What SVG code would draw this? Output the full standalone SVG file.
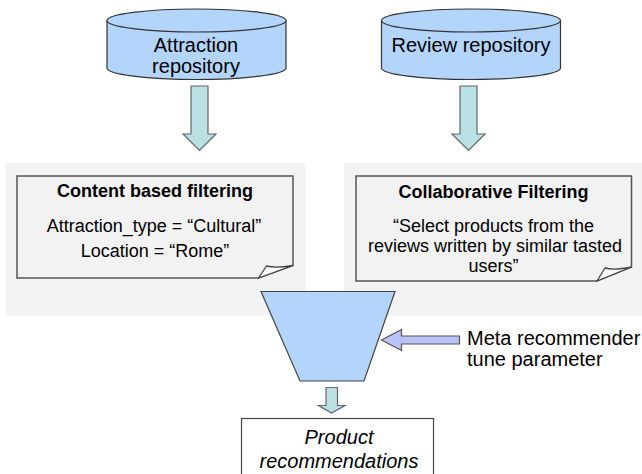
<svg xmlns="http://www.w3.org/2000/svg" width="642" height="474" viewBox="0 0 642 474">
  <style>
    text { font-family: "Liberation Sans", Arial, sans-serif; fill: #000; }
    .lbl { font-size: 20px; text-anchor: middle; }
    .note-title { font-size: 18px; font-weight: bold; text-anchor: middle; }
    .note-text { font-size: 18px; text-anchor: middle; }
    .side { font-size: 20px; }
    .out { font-size: 20px; font-style: italic; text-anchor: middle; }
    .db { fill: #b3d4fb; stroke: #333; stroke-width: 1.2; }
    .panel { fill: #f3f3f3; stroke: none; }
    .note { fill: #f2f2f2; stroke: #555; stroke-width: 1.5; }
    .flap { fill: #fafafa; stroke: #444; stroke-width: 1.3; stroke-linejoin: round; }
    .down { fill: #b9e0e3; stroke: #666; stroke-width: 1.2; }
    .funnel { fill: #b3d4fb; stroke: #444; stroke-width: 1.2; }
    .tune { fill: #b8c4f8; stroke: #555; stroke-width: 1.2; }
    .box { fill: #fff; stroke: #444; stroke-width: 1.2; }
  </style>

  <!-- grey background panels behind the two filtering notes -->
  <rect class="panel" x="5.5" y="163" width="300" height="153"/>
  <rect class="panel" x="344" y="163" width="298" height="153"/>

  <g id="attraction-repository">
    <path class="db" d="M107,20.5 V68 A89.5,11.5 0 0 0 286,68 V20.5"/>
    <ellipse class="db" cx="196.5" cy="20.5" rx="89.5" ry="11.5"/>
    <text class="lbl" x="196" y="52">Attraction</text>
    <text class="lbl" x="196" y="73">repository</text>
  </g>

  <g id="review-repository">
    <path class="db" d="M381.5,20.5 V68 A89.5,11.5 0 0 0 560.5,68 V20.5"/>
    <ellipse class="db" cx="471" cy="20.5" rx="89.5" ry="11.5"/>
    <text class="lbl" x="471" y="52">Review repository</text>
  </g>

  <g id="content-filtering">
    <path class="note" d="M17,176 H293 V265.5 L258.5,278 H17 Z"/>
    <path class="flap" d="M258.5,278 L266.5,266 Q276,268.5 293,265.5 Z"/>
    <text class="note-title" x="155" y="197">Content based filtering</text>
    <text class="note-text" x="154" y="232">Attraction_type = “Cultural”</text>
    <text class="note-text" x="155" y="257">Location = “Rome”</text>
  </g>

  <g id="collaborative-filtering">
    <path class="note" d="M356,176 H631.5 V267 L597,281 H356 Z"/>
    <path class="flap" d="M597,281 L605,268 Q614,270.5 631.5,267 Z"/>
    <text class="note-title" x="493.5" y="198">Collaborative Filtering</text>
    <text class="note-text" x="493.5" y="232">“Select products from the</text>
    <text class="note-text" x="495" y="252">reviews written by similar tasted</text>
    <text class="note-text" x="493.5" y="272">users”</text>
  </g>

  <g id="meta-recommender">
    <polygon class="funnel" points="261,291.5 395,291.5 364,381 300,381"/>
  </g>

  <g id="tune-parameter">
    <text class="side" x="467" y="345">Meta recommender</text>
    <text class="side" x="467" y="366">tune parameter</text>
  </g>

  <g id="product-recommendations">
    <rect class="box" x="241.5" y="418.5" width="192" height="62"/>
    <text class="out" x="339" y="444">Product</text>
    <text class="out" x="339" y="467.5">recommendations</text>
  </g>

  <g id="connectors">
    <polygon class="down" points="191,86 208,86 208,134 216,134 199.5,150.5 183,134 191,134"/>
    <polygon class="down" points="460,86 477,86 477,134 485,134 468.5,150.5 452,134 460,134"/>
    <polygon class="tune" points="381.5,340 401.5,329.5 401.5,336 459.5,336 459.5,344 401.5,344 401.5,350.5"/>
    <polygon class="down" points="326,387.5 337.5,387.5 337.5,405.5 345,405.5 331.5,413 318.5,405.5 326,405.5"/>
  </g>
</svg>
